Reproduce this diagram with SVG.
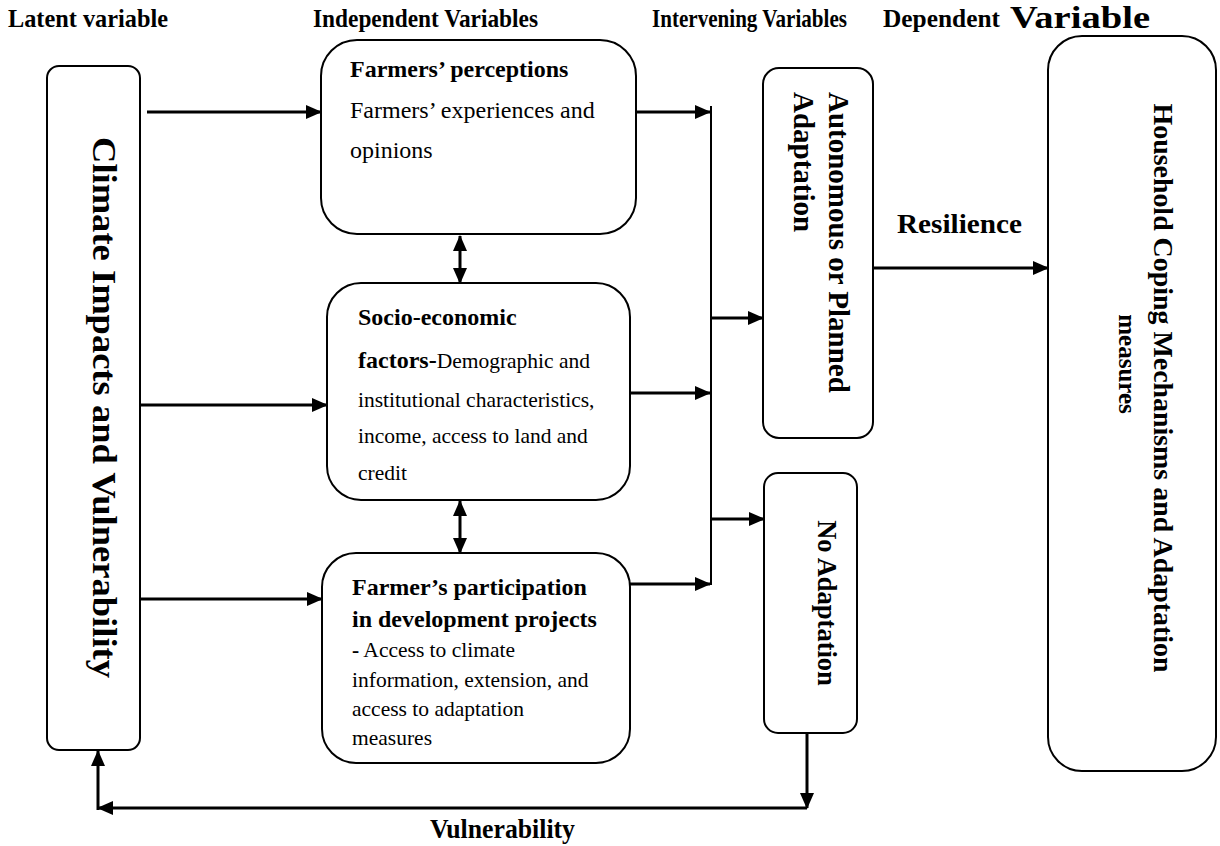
<svg xmlns="http://www.w3.org/2000/svg" width="1220" height="846" viewBox="0 0 1220 846">
<style>
text{font-family:"Liberation Serif","Times New Roman",serif;fill:#000}
.h{font-size:25px;font-weight:bold}
.b{font-weight:bold}
.box{fill:#fff;stroke:#000;stroke-width:2}
.c{fill:none;stroke:#000;stroke-width:3}
.bus{fill:none;stroke:#000;stroke-width:2}
.t{font-size:24px}
.s{font-size:21.5px}
.big{font-size:29px;font-weight:bold}
</style>
<defs>
<marker id="ah" markerUnits="userSpaceOnUse" markerWidth="16" markerHeight="14" refX="15" refY="7" orient="auto-start-reverse" viewBox="0 0 16 14">
<path d="M0,0 L16,7 L0,14 z" fill="#000"/>
</marker>
</defs>
<g id="titles">
<text class="h" x="8" y="27" textLength="160" lengthAdjust="spacingAndGlyphs">Latent variable</text>
<text class="h" x="313" y="27" textLength="225" lengthAdjust="spacingAndGlyphs">Independent Variables</text>
<text class="h" x="652" y="27" textLength="195" lengthAdjust="spacingAndGlyphs">Intervening Variables</text>
<text class="h" x="883" y="27" textLength="117" lengthAdjust="spacingAndGlyphs">Dependent</text>
<text class="h" x="1010" y="28" style="font-size:31px" textLength="140" lengthAdjust="spacingAndGlyphs">Variable</text>
</g>
<g id="latent">
<rect class="box" x="47" y="66" width="93" height="684" rx="12"/>
<text class="b" style="font-size:33px" transform="translate(93,407.5) rotate(90)" text-anchor="middle" textLength="541" lengthAdjust="spacingAndGlyphs">Climate Impacts and Vulnerability</text>
</g>
<g id="perceptions">
<rect class="box" x="321" y="40" width="315" height="194" rx="36"/>
<text class="t b" x="350" y="77">Farmers’ perceptions</text>
<text class="t" x="350" y="118">Farmers’ experiences and</text>
<text class="t" x="350" y="158">opinions</text>
</g>
<g id="socio">
<rect class="box" x="327" y="283" width="303" height="217" rx="34"/>
<text class="t b" x="358" y="325">Socio-economic</text>
<text class="s" x="358" y="368"><tspan class="b" style="font-size:24px">factors-</tspan>Demographic and</text>
<text class="s" x="358" y="407">institutional characteristics,</text>
<text class="s" x="358" y="443">income, access to land and</text>
<text class="s" x="358" y="480">credit</text>
</g>
<g id="participation">
<rect class="box" x="322" y="553" width="308" height="210" rx="34"/>
<text class="t b" x="352" y="595">Farmer’s participation</text>
<text class="t b" x="352" y="627">in development projects</text>
<text class="s" x="352" y="657"><tspan class="b">-</tspan> Access to climate</text>
<text class="s" x="352" y="687">information, extension, and</text>
<text class="s" x="352" y="716">access to adaptation</text>
<text class="s" x="352" y="745">measures</text>
</g>
<g id="autonomous">
<rect class="box" x="763" y="68" width="110" height="370" rx="16"/>
<text class="big" transform="translate(829,92) rotate(90)">Autonomous or Planned</text>
<text class="big" transform="translate(794,92) rotate(90)">Adaptation</text>
</g>
<g id="noadaptation">
<rect class="box" x="764" y="473" width="93" height="260" rx="14"/>
<text class="b" style="font-size:26.5px" transform="translate(818,603) rotate(90)" text-anchor="middle">No Adaptation</text>
</g>
<g id="household">
<rect class="box" x="1048" y="36" width="168" height="735" rx="34"/>
<text class="b" style="font-size:28px" transform="translate(1154,388) rotate(90)" text-anchor="middle" textLength="569" lengthAdjust="spacingAndGlyphs">Household Coping Mechanisms and Adaptation</text>
<text class="b" style="font-size:25px" transform="translate(1119,364) rotate(90)" text-anchor="middle">measures</text>
</g>
<g id="connectors">
<path class="c" d="M147,112 H321" marker-end="url(#ah)"/>
<path class="c" d="M140,405 H327" marker-end="url(#ah)"/>
<path class="c" d="M140,599 H322" marker-end="url(#ah)"/>
<path class="c" d="M636,112 H710" marker-end="url(#ah)"/>
<path class="c" d="M630,393 H710" marker-end="url(#ah)"/>
<path class="c" d="M630,584 H710" marker-end="url(#ah)"/>
<path class="bus" d="M711,106 V585"/>
<path class="c" d="M711,318 H763" marker-end="url(#ah)"/>
<path class="c" d="M711,519 H764" marker-end="url(#ah)"/>
<path class="c" d="M460,236 V283" marker-start="url(#ah)" marker-end="url(#ah)"/>
<path class="c" d="M460,501 V553" marker-start="url(#ah)" marker-end="url(#ah)"/>
<path class="c" d="M873,268 H1048" marker-end="url(#ah)"/>
<path class="c" d="M807,733 V808" marker-end="url(#ah)"/>
<path class="c" d="M807,808 H98" marker-end="url(#ah)"/>
<path class="c" d="M98,810 V751" marker-end="url(#ah)"/>
</g>
<g id="labels">
<text class="b" style="font-size:28px" x="897" y="233" textLength="125" lengthAdjust="spacingAndGlyphs">Resilience</text>
<text class="b" style="font-size:28px" x="430" y="838" textLength="145" lengthAdjust="spacingAndGlyphs">Vulnerability</text>
</g>
</svg>
